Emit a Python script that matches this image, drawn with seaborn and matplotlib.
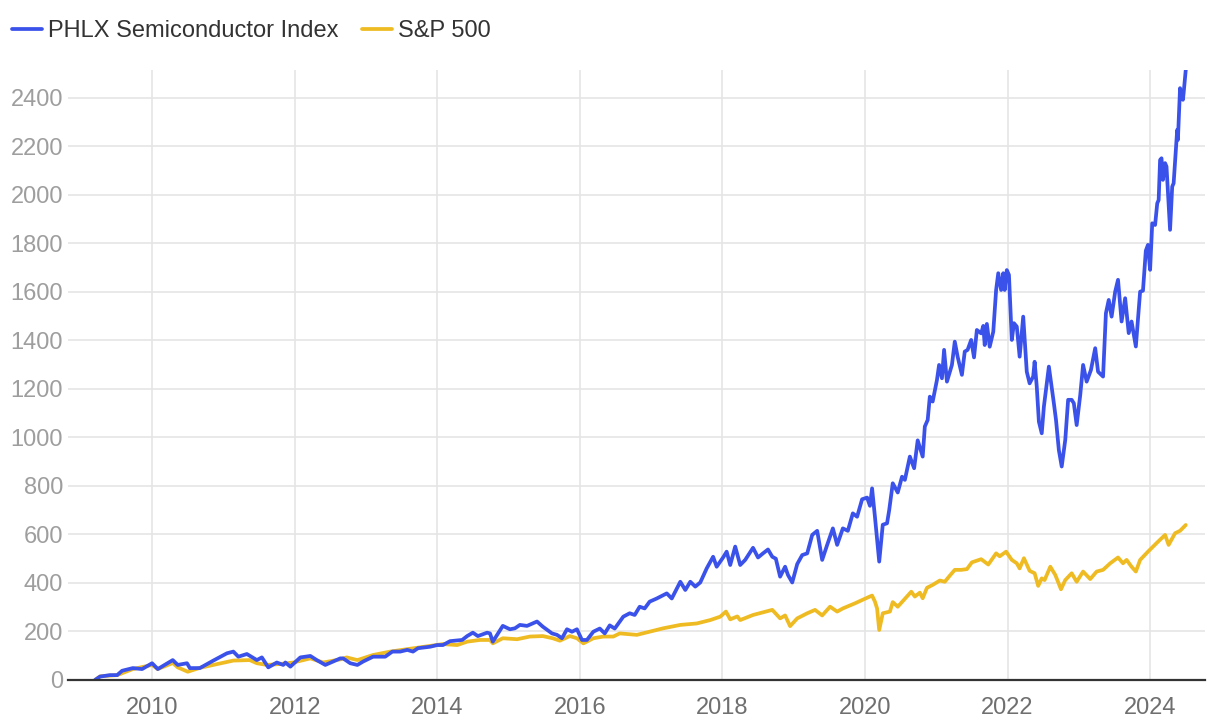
import pandas as pd
import matplotlib.pyplot as plt
import seaborn as sns

# decimal years / values (cumulative return, %)
semi_year = [2009.20, 2009.27, 2009.41, 2009.51, 2009.58, 2009.73, 2009.86, 2010.00, 2010.08, 2010.29,
             2010.36, 2010.49, 2010.53, 2010.67, 2010.86, 2011.05, 2011.14, 2011.21, 2011.33, 2011.47,
             2011.54, 2011.63, 2011.75, 2011.84, 2011.87, 2011.94, 2012.08, 2012.22, 2012.31, 2012.43,
             2012.54, 2012.64, 2012.68, 2012.78, 2012.88, 2012.96, 2013.10, 2013.27, 2013.37, 2013.48,
             2013.58, 2013.66, 2013.73, 2013.90, 2014.00, 2014.08, 2014.18, 2014.35, 2014.42, 2014.50,
             2014.57, 2014.70, 2014.74, 2014.78, 2014.84, 2014.92, 2015.02, 2015.09, 2015.16, 2015.26,
             2015.33, 2015.40, 2015.48, 2015.61, 2015.68, 2015.75, 2015.82, 2015.89, 2015.96, 2016.03,
             2016.10, 2016.19, 2016.28, 2016.35, 2016.42, 2016.49, 2016.61, 2016.70, 2016.77, 2016.84,
             2016.91, 2016.98, 2017.08, 2017.22, 2017.29, 2017.41, 2017.48, 2017.55, 2017.62, 2017.69,
             2017.78, 2017.87, 2017.92, 2018.01, 2018.06, 2018.11, 2018.18, 2018.25, 2018.32, 2018.43,
             2018.50, 2018.57, 2018.64, 2018.70, 2018.75, 2018.81, 2018.88, 2018.92, 2018.98, 2019.05,
             2019.12, 2019.19, 2019.26, 2019.33, 2019.40, 2019.47, 2019.55, 2019.61, 2019.69, 2019.76,
             2019.83, 2019.89, 2019.96, 2020.03, 2020.07, 2020.10, 2020.14, 2020.20, 2020.25, 2020.31,
             2020.34, 2020.39, 2020.46, 2020.52, 2020.56, 2020.63, 2020.69, 2020.74, 2020.81, 2020.84,
             2020.88, 2020.91, 2020.95, 2021.01, 2021.04, 2021.08, 2021.11, 2021.15, 2021.22, 2021.26,
             2021.30, 2021.36, 2021.40, 2021.44, 2021.49, 2021.53, 2021.57, 2021.63, 2021.66, 2021.68,
             2021.71, 2021.75, 2021.80, 2021.84, 2021.87, 2021.91, 2021.94, 2021.96, 2021.99, 2022.02,
             2022.06, 2022.09, 2022.13, 2022.17, 2022.22, 2022.27, 2022.31, 2022.36, 2022.38, 2022.41,
             2022.44, 2022.48, 2022.51, 2022.58, 2022.65, 2022.68, 2022.72, 2022.76, 2022.81, 2022.85,
             2022.90, 2022.93, 2022.97, 2023.02, 2023.06, 2023.11, 2023.17, 2023.23, 2023.27, 2023.34,
             2023.38, 2023.42, 2023.46, 2023.51, 2023.55, 2023.60, 2023.65, 2023.70, 2023.74, 2023.80,
             2023.86, 2023.90, 2023.94, 2023.97, 2024.00, 2024.03, 2024.07, 2024.10, 2024.12, 2024.14,
             2024.16, 2024.18, 2024.21, 2024.23, 2024.28, 2024.31, 2024.33, 2024.38, 2024.39, 2024.42,
             2024.46, 2024.47, 2024.50]
semi_val = [0, 14, 20, 20, 38, 49, 45, 69, 45, 82,
            62, 69, 49, 49, 80, 110, 117, 96, 107, 82,
            93, 52, 72, 62, 72, 55, 93, 99, 82, 62,
            76, 89, 89, 69, 62, 76, 96, 96, 117, 117,
            124, 117, 131, 137, 144, 144, 160, 165, 181, 195,
            181, 195, 192, 158, 186, 223, 209, 213, 227, 223,
            232, 241, 220, 192, 186, 172, 209, 199, 209, 165,
            165, 199, 212, 192, 225, 212, 261, 275, 268, 302,
            295, 323, 336, 357, 336, 405, 371, 405, 385, 402,
            460, 508, 467, 505, 529, 474, 550, 474, 495, 545,
            505, 522, 538, 508, 500, 426, 467, 433, 402, 478,
            515, 522, 598, 615, 495, 557, 625, 557, 625, 615,
            687, 673, 745, 752, 718, 790, 673, 488, 640, 646,
            700, 811, 773, 838, 825, 921, 873, 988, 921, 1045,
            1072, 1168, 1148, 1237, 1299, 1244, 1361, 1230, 1299, 1395,
            1333, 1258, 1354, 1361, 1402, 1330, 1443, 1429, 1460, 1381,
            1468, 1374, 1436, 1608, 1677, 1608, 1677, 1608, 1690, 1670,
            1402, 1471, 1457, 1333, 1498, 1271, 1223, 1251, 1312, 1210,
            1065, 1017, 1127, 1292, 1141, 1072, 948, 880, 990, 1155,
            1155, 1141, 1051, 1175, 1299, 1230, 1278, 1368, 1271, 1251,
            1512, 1567, 1498, 1601, 1650, 1478, 1574, 1430, 1478, 1375,
            1601, 1605, 1770, 1794, 1691, 1883, 1876, 1965, 1979, 2144,
            2151, 2062, 2131, 2117, 1856, 2034, 2048, 2268, 2227, 2440,
            2392, 2419, 2515]

spx_year = [2009.20, 2009.27, 2009.51, 2009.73, 2010.00, 2010.08, 2010.29, 2010.36, 2010.50, 2010.67,
            2010.86, 2011.14, 2011.37, 2011.47, 2011.61, 2011.80, 2011.98, 2012.22, 2012.40, 2012.64,
            2012.73, 2012.88, 2013.10, 2013.34, 2013.58, 2013.90, 2014.08, 2014.28, 2014.42, 2014.60,
            2014.74, 2014.78, 2014.92, 2015.12, 2015.30, 2015.48, 2015.62, 2015.72, 2015.86, 2015.96,
            2016.05, 2016.19, 2016.33, 2016.47, 2016.56, 2016.80, 2016.98, 2017.17, 2017.41, 2017.64,
            2017.83, 2017.97, 2018.05, 2018.11, 2018.21, 2018.25, 2018.43, 2018.70, 2018.81, 2018.88,
            2018.95, 2019.05, 2019.19, 2019.30, 2019.40, 2019.51, 2019.61, 2019.69, 2019.86, 2020.00,
            2020.10, 2020.14, 2020.17, 2020.20, 2020.25, 2020.35, 2020.39, 2020.46, 2020.59, 2020.65,
            2020.70, 2020.77, 2020.81, 2020.87, 2020.95, 2021.05, 2021.12, 2021.19, 2021.26, 2021.35,
            2021.43, 2021.50, 2021.63, 2021.73, 2021.84, 2021.89, 2021.98, 2022.06, 2022.13, 2022.17,
            2022.23, 2022.31, 2022.38, 2022.43, 2022.48, 2022.52, 2022.60, 2022.67, 2022.75, 2022.81,
            2022.90, 2022.97, 2023.06, 2023.16, 2023.25, 2023.34, 2023.44, 2023.55, 2023.62, 2023.67,
            2023.74, 2023.80, 2023.86, 2023.97, 2024.10, 2024.21, 2024.26, 2024.35, 2024.42, 2024.50]
spx_val = [0, 15, 20, 45, 62, 45, 70, 52, 34, 50,
           62, 80, 82, 69, 62, 66, 72, 89, 72, 85,
           93, 82, 103, 117, 127, 140, 148, 144, 158, 165,
           165, 151, 172, 168, 179, 181, 172, 162, 181, 172,
           151, 172, 179, 179, 192, 186, 199, 213, 227, 233,
           247, 261, 282, 250, 262, 247, 268, 289, 254, 266,
           222, 254, 275, 289, 266, 302, 282, 295, 316, 335,
           348, 323, 295, 206, 275, 282, 321, 302, 344, 364,
           344, 360, 337, 380, 392, 410, 405, 430, 454, 454,
           457, 485, 498, 476, 522, 510, 529, 495, 481, 460,
           502, 450, 440, 388, 419, 412, 467, 433, 374, 412,
           440, 405, 447, 416, 447, 454, 481, 505, 481, 495,
           467, 447, 495, 529, 567, 598, 557, 605, 615, 639]

semi = pd.DataFrame({"year": semi_year, "value": semi_val})
spx = pd.DataFrame({"year": spx_year, "value": spx_val})

BLUE = "#3b52ea"
GOLD = "#efbb22"

sns.set_theme(style="white")
plt.rcParams["font.family"] = ["Liberation Sans", "DejaVu Sans"]

fig = plt.figure(figsize=(12.2, 7.26), dpi=100)
ax = fig.add_axes([0.0557, 0.0634, 0.932, 0.8402])

sns.lineplot(data=spx, x="year", y="value", color=GOLD, linewidth=2.7, ax=ax, label="S&P 500")
sns.lineplot(data=semi, x="year", y="value", color=BLUE, linewidth=2.7, ax=ax,
             label="PHLX Semiconductor Index")

ax.set_xlim(2008.82, 2024.77)
ax.set_ylim(0, 2515)
ax.set_xticks(range(2010, 2025, 2))
ax.set_yticks(range(0, 2401, 200))
ax.grid(True, color="#e5e5e5", linewidth=1.2)
ax.set_axisbelow(True)
ax.set_xlabel("")
ax.set_ylabel("")
for s in ["top", "right", "left"]:
    ax.spines[s].set_visible(False)
ax.spines["bottom"].set_color("#333333")
ax.spines["bottom"].set_linewidth(1.6)
ax.spines["bottom"].set_zorder(5)
ax.tick_params(axis="y", length=0, pad=3.5, labelsize=17, labelcolor="#9e9e9e")
ax.tick_params(axis="x", length=0, pad=12, labelsize=17, labelcolor="#6f6f6f")

ax.get_legend().remove()
h, l = ax.get_legend_handles_labels()
fig.legend(h[::-1], l[::-1], loc="upper left", bbox_to_anchor=(0.0098, 0.972), ncol=2, frameon=False,
           fontsize=17, handlelength=1.27, handletextpad=0.25, columnspacing=1.0,
           borderpad=0, borderaxespad=0, labelcolor="#333333")

fig.savefig("out.png", dpi=100)
